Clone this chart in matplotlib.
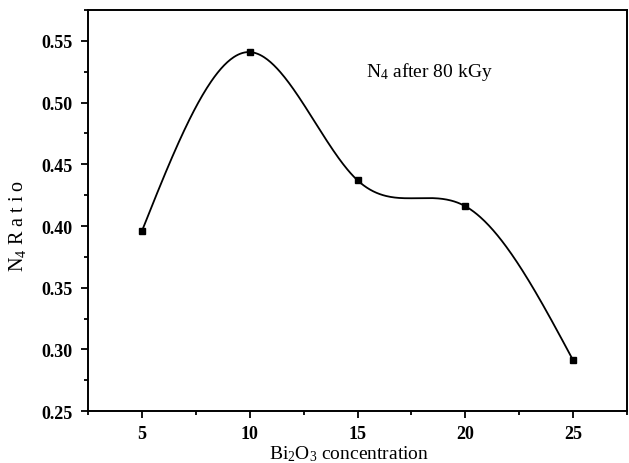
import numpy as np
import matplotlib
matplotlib.use("Agg")
import matplotlib.pyplot as plt
from matplotlib.ticker import MultipleLocator, FormatStrFormatter

plt.rcParams['font.family'] = ['Liberation Serif', 'DejaVu Serif']
plt.rcParams['mathtext.fontset'] = 'custom'
plt.rcParams['mathtext.rm'] = 'Liberation Serif'
plt.rcParams['mathtext.it'] = 'Liberation Serif:italic'

conc = np.array([5, 10, 15, 20, 25])
n4_ratio = np.array([0.396, 0.541, 0.437, 0.416, 0.291])


def natural_spline(x, y, xs):
    # natural cubic spline, second derivative zero at both ends
    n = len(x)
    h = np.diff(x)
    A = np.zeros((n, n))
    b = np.zeros(n)
    A[0, 0] = A[-1, -1] = 1
    for i in range(1, n - 1):
        A[i, i - 1] = h[i - 1]
        A[i, i] = 2 * (h[i - 1] + h[i])
        A[i, i + 1] = h[i]
        b[i] = 6 * ((y[i + 1] - y[i]) / h[i] - (y[i] - y[i - 1]) / h[i - 1])
    M = np.linalg.solve(A, b)
    out = np.empty_like(xs)
    for k, t in enumerate(xs):
        i = min(np.searchsorted(x, t, side='right') - 1, n - 2)
        i = max(i, 0)
        a = x[i + 1] - t
        c = t - x[i]
        out[k] = (M[i] * a**3 + M[i + 1] * c**3) / (6 * h[i]) \
            + (y[i] / h[i] - M[i] * h[i] / 6) * a \
            + (y[i + 1] / h[i] - M[i + 1] * h[i] / 6) * c
    return out


xs = np.linspace(conc.min(), conc.max(), 400)
ys = natural_spline(conc.astype(float), n4_ratio, xs)

fig = plt.figure(figsize=(6.29, 4.64), dpi=100)
ax = fig.add_axes([0.140, 0.112, 0.857, 0.864])

ax.plot(xs, ys, color='black', lw=1.3)
ax.plot(conc, n4_ratio, 's', color='black', ms=5)

ax.set_xlim(2.5, 27.5)
ax.set_ylim(0.25, 0.575)
ax.xaxis.set_major_locator(MultipleLocator(5))
ax.xaxis.set_minor_locator(MultipleLocator(2.5))
ax.yaxis.set_major_locator(MultipleLocator(0.05))
ax.yaxis.set_minor_locator(MultipleLocator(0.025))
ax.yaxis.set_major_formatter(FormatStrFormatter('%.2f'))

ax.tick_params(which='both', direction='out', width=1.3, top=False, right=False)
ax.tick_params(which='major', length=5, labelsize=13)
ax.tick_params(which='minor', length=3)
ax.tick_params(axis='x', which='major', pad=5)
ax.tick_params(axis='y', which='major', pad=6)
for lab in ax.get_xticklabels() + ax.get_yticklabels():
    lab.set_fontweight('bold')
for sp in ax.spines.values():
    sp.set_linewidth(1.4)

ax.set_xlabel('Bi$_2$O$_3$ concentration', fontsize=14)
ax.xaxis.set_label_coords((349 - 88) / 539, -0.08)
ax.set_ylabel('N$_4$ R a t i o', fontsize=14.5)
ax.yaxis.set_label_coords(-0.111, 0.464)

ax.text(15.4, 0.526, 'N$_4$ after 80 kGy', fontsize=14, va='center')

fig.savefig('out.png', dpi=100)
